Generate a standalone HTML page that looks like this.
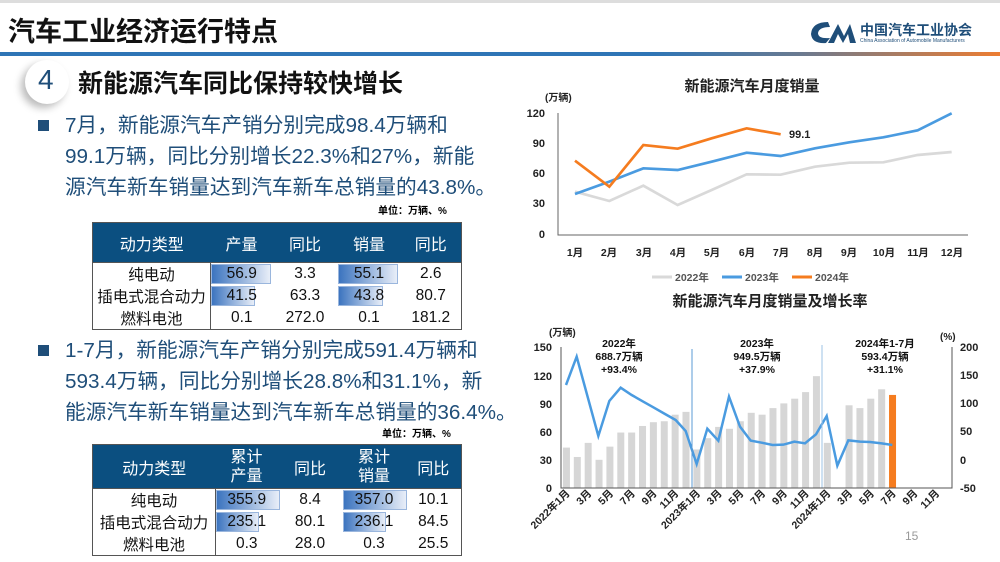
<!DOCTYPE html>
<html><head><meta charset="utf-8"><style>
*{margin:0;padding:0;box-sizing:border-box}
body{width:1000px;height:562px;position:relative;background:#fff;overflow:hidden;font-family:"Liberation Sans","Noto Sans CJK SC",sans-serif}
.a{position:absolute;white-space:nowrap}
.p{color:#1f4e79;font-size:20.7px;line-height:31px}
.bul{position:absolute;width:11px;height:11px;background:#1f4e79}
table{position:absolute;border-collapse:collapse;font-size:15.5px;color:#111}
td,th{text-align:center;padding:0;position:relative}
th{background:#0b4f80;color:#fff;font-weight:normal;font-size:16px}
.bar{position:absolute;left:0;top:1px;bottom:1px;background:linear-gradient(90deg,#3c74bf,#e8eef8);border:1px solid #9ab6dd}
.v{position:relative}
</style></head><body>
<div class="a" style="left:0;top:0;width:1000px;height:3px;background:#ddd"></div>
<div class="a" style="left:8px;top:10px;font-size:27px;font-weight:bold;color:#111">汽车工业经济运行特点</div>
<div class="a" style="left:0;top:52px;width:1000px;height:4px;background:linear-gradient(90deg,#2e75b6 0%,#2e75b6 65%,#6a7a90 80%,#ed7d31 100%)"></div>
<svg class="a" style="left:808px;top:18px" width="50" height="28" viewBox="0 0 50 28"><path d="M20 4 Q4 4 3 16 Q4 26 18 25 L22 20 Q10 21 10 15 Q11 9 22 9 Z" fill="#1f4e79"/><path d="M20 25 L30 6 L36 18 L42 6 L48 25 L42 25 L40 16 L35 25 L30 16 L26 25Z" fill="#1f4e79"/></svg>
<div class="a" style="left:860px;top:20px;font-size:14px;font-weight:bold;color:#1f4e79">中国汽车工业协会</div>
<div class="a" style="left:860px;top:38px;font-size:5px;color:#1f4e79">China Association of Automobile Manufacturers</div>

<div class="a" style="left:25px;top:60px;width:44px;height:44px;border-radius:50%;background:#fff;box-shadow:-4px 4px 8px #bbb"></div>
<div class="a" style="left:38px;top:64px;font-size:28px;color:#1f4e79">4</div>
<div class="a" style="left:78px;top:64px;font-size:25px;font-weight:bold;color:#111">新能源汽车同比保持较快增长</div>

<div class="bul" style="left:38px;top:120px"></div>
<div class="a p" style="left:65px;top:110px">7月，新能源汽车产销分别完成98.4万辆和<br>99.1万辆，同比分别增长22.3%和27%，新能<br>源汽车新车销量达到汽车新车总销量的43.8%。</div>
<div class="a" style="left:378px;top:202px;font-size:10px;font-weight:bold">单位：万辆、%</div>
<table style="left:92px;top:222px;width:370px;border:1px solid #555">
<tr style="height:40px"><th style="width:118px">动力类型</th><th style="width:62px">产量</th><th style="width:65px">同比</th><th style="width:63px">销量</th><th>同比</th></tr>
<tr style="height:21px;border-top:1px solid #555"><td>纯电动</td><td style="border-left:1px solid #555"><div class="bar" style="width:60px"></div><span class="v">56.9</span></td><td>3.3</td><td><div class="bar" style="width:60px"></div><span class="v">55.1</span></td><td>2.6</td></tr>
<tr style="height:21px"><td>插电式混合动力</td><td style="border-left:1px solid #555"><div class="bar" style="width:44px"></div><span class="v">41.5</span></td><td>63.3</td><td><div class="bar" style="width:45px"></div><span class="v">43.8</span></td><td>80.7</td></tr>
<tr style="height:21px"><td>燃料电池</td><td style="border-left:1px solid #555">0.1</td><td>272.0</td><td>0.1</td><td>181.2</td></tr>
</table>

<div class="bul" style="left:38px;top:345px"></div>
<div class="a p" style="left:65px;top:335px">1-7月，新能源汽车产销分别完成591.4万辆和<br>593.4万辆，同比分别增长28.8%和31.1%，新<br>能源汽车新车销量达到汽车新车总销量的36.4%。</div>
<div class="a" style="left:382px;top:425px;font-size:10px;font-weight:bold">单位：万辆、%</div>
<table style="left:92px;top:444px;width:370px;border:1px solid #555">
<tr style="height:44px"><th style="width:123px">动力类型</th><th style="width:62px;line-height:19px">累计<br>产量</th><th style="width:65px">同比</th><th style="width:63px;line-height:19px">累计<br>销量</th><th>同比</th></tr>
<tr style="height:21px;border-top:1px solid #555"><td>纯电动</td><td style="border-left:1px solid #555"><div class="bar" style="width:64px"></div><span class="v">355.9</span></td><td>8.4</td><td><div class="bar" style="width:64px"></div><span class="v">357.0</span></td><td>10.1</td></tr>
<tr style="height:21px"><td>插电式混合动力</td><td style="border-left:1px solid #555"><div class="bar" style="width:43px"></div><span class="v">235.1</span></td><td>80.1</td><td><div class="bar" style="width:43px"></div><span class="v">236.1</span></td><td>84.5</td></tr>
<tr style="height:22px"><td>燃料电池</td><td style="border-left:1px solid #555">0.3</td><td>28.0</td><td>0.3</td><td>25.5</td></tr>
</table>

<svg class="a" style="left:0;top:0" width="1000" height="562">
<g font-family="Liberation Sans,Noto Sans CJK SC,sans-serif" font-weight="bold" fill="#222">
<text x="752" y="91" font-size="15" text-anchor="middle">新能源汽车月度销量</text>
<text x="545" y="101" font-size="10">(万辆)</text>
<g font-size="11" text-anchor="end"><text x="545" y="117">120</text><text x="545" y="177">60</text><text x="545" y="147">90</text><text x="545" y="207">30</text><text x="545" y="238">0</text></g>
<polyline points="558,113 558,235 968,235" fill="none" stroke="#666" stroke-width="1"/>
<g font-size="10.5" text-anchor="middle">
<text x="575" y="256">1月</text><text x="609" y="256">2月</text><text x="644" y="256">3月</text><text x="678" y="256">4月</text><text x="712" y="256">5月</text><text x="747" y="256">6月</text><text x="781" y="256">7月</text><text x="815" y="256">8月</text><text x="849" y="256">9月</text><text x="884" y="256">10月</text><text x="918" y="256">11月</text><text x="952" y="256">12月</text></g>
<g transform="translate(530,70) scale(0.33333)" fill="none" stroke-width="8">
<polyline stroke="#d9d9d9" points="135,365 238,393 340,347 443,405 545,360 650,313 752,314 855,290 958,278 1060,277 1163,255 1265,246"/>
<polyline stroke="#4a9be0" points="135,372 238,335 340,295 443,300 545,275 650,248 752,258 855,235 958,217 1060,202 1163,181 1265,130"/>
<polyline stroke="#f57c1f" points="135,272 238,350 340,225 443,236 545,205 650,175 752,193"/>
</g>
<text x="789" y="138" font-size="11">99.1</text>
<line x1="652" y1="277" x2="672" y2="277" stroke="#d9d9d9" stroke-width="3"/><text x="675" y="281" font-size="10.5" fill="#555">2022年</text>
<line x1="722" y1="277" x2="742" y2="277" stroke="#4a9be0" stroke-width="3"/><text x="745" y="281" font-size="10.5" fill="#555">2023年</text>
<line x1="792" y1="277" x2="812" y2="277" stroke="#f57c1f" stroke-width="3"/><text x="815" y="281" font-size="10.5" fill="#555">2024年</text>

<text x="770" y="306" font-size="15" text-anchor="middle">新能源汽车月度销量及增长率</text>
<text x="549" y="336" font-size="10">(万辆)</text>
<text x="940" y="340" font-size="10">(%)</text>
<g font-size="11" text-anchor="end"><text x="552" y="351">150</text><text x="552" y="380">120</text><text x="552" y="408">90</text><text x="552" y="436">60</text><text x="552" y="464">30</text><text x="552" y="492">0</text></g>
<g font-size="11"><text x="960" y="351">200</text><text x="960" y="379">150</text><text x="960" y="407">100</text><text x="960" y="435">50</text><text x="960" y="464">0</text><text x="960" y="492">-50</text></g>
<g fill="#d6d6d6" id="bars"></g>
<line x1="692" y1="349" x2="692" y2="488" stroke="#5b9bd5" stroke-width="1"/>
<line x1="822" y1="345" x2="822" y2="488" stroke="#9dc3e6" stroke-width="1"/>
<polyline points="561,347 561,488 952,488 952,347" fill="none" stroke="#555" stroke-width="1"/>
<g font-size="10.5" text-anchor="middle" fill="#111">
<text x="619" y="347">2022年</text><text x="619" y="360">688.7万辆</text><text x="619" y="373">+93.4%</text>
<text x="757" y="347">2023年</text><text x="757" y="360">949.5万辆</text><text x="757" y="373">+37.9%</text>
<text x="885" y="347">2024年1-7月</text><text x="885" y="360">593.4万辆</text><text x="885" y="373">+31.1%</text></g>
<g font-size="10.5" text-anchor="end" id="xl"></g>
<text x="905" y="540" font-size="12" font-weight="normal" fill="#999">15</text>
</g>
</svg>
<script>
var bars=[43,33,48,30,44,59,59,66,70,71,78,81,41,53,65,63,71,80,78,85,90,95,102,119,48,0,88,85,95,105,99];
var g=document.getElementById('bars'),s='';
bars.forEach(function(v,i){if(!v)return;var x=561+(i+0.5)*10.87-3.5,h=v*141/150;s+='<rect x="'+x+'" y="'+(488-h)+'" width="7" height="'+h+'"'+(i==30?' fill="#f57c1f"':'')+'/>';});
var pts=[[108,285],[140,200],[205,438],[238,333],[272,293],[305,315],[340,335],[370,352],[405,372],[437,390],[467,423],[500,522],[532,416],[565,452],[597,320],[630,410],[662,452],[695,458],[728,465],[760,464],[793,455],[825,460],[858,433],[890,378],[922,527],[955,451],[990,455],[1020,456],[1055,460],[1087,465]];
s+='<polyline fill="none" stroke="#4a9be0" stroke-width="2.5" points="'+pts.map(function(p){return (530+p[0]/3)+','+(290+p[1]/3)}).join(' ')+'"/>';
g.innerHTML=s;
var lab=['2022年1月','3月','5月','7月','9月','11月','2023年1月','3月','5月','7月','9月','11月','2024年1月','3月','5月','7月','9月','11月'],t='';
lab.forEach(function(l,k){var x=561+(2*k+0.5)*10.87+4;t+='<text transform="translate('+x+',494) rotate(-45)">'+l+'</text>';});
document.getElementById('xl').innerHTML=t;
</script>
</body></html>
